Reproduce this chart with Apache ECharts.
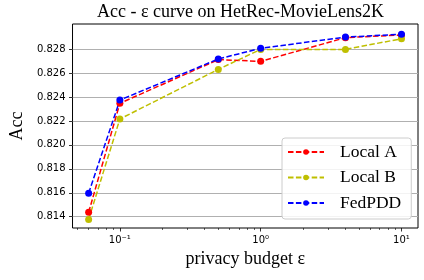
<!DOCTYPE html>
<html>
<head>
<meta charset="utf-8">
<script src="https://cdn.jsdelivr.net/npm/echarts@6/dist/echarts.min.js"></script>
<style>html,body{margin:0;padding:0;background:#fff}#c{width:424px;height:280px}</style>
</head>
<body>
<div id="c"></div>
<script>
const epsilons = [0.06, 0.1, 0.5, 1, 4, 10];
const localA = [0.81437, 0.82347, 0.82712, 0.82697, 0.82895, 0.82917];
const localB = [0.81378, 0.82216, 0.82630, 0.82797, 0.82797, 0.82886];
const fedPDD = [0.81596, 0.82374, 0.82717, 0.82806, 0.82900, 0.82923];
const yTicks = [0.814, 0.816, 0.818, 0.820, 0.822, 0.824, 0.826, 0.828];
const xMajor = [0.1, 1, 10];
const xMajorLabels = {0.1: '10\u207B\u00B9', 1: '10\u2070', 10: '10\u00B9'};
const xMinor = [0.05, 0.06, 0.07, 0.08, 0.09, 0.2, 0.3, 0.4, 0.5, 0.6, 0.7, 0.8, 0.9, 2, 3, 4, 5, 6, 7, 8, 9];

const SERIF = 'Liberation Serif';
const SANS = 'DejaVu Sans';
const XMIN = 0.04611, XMAX = 13.10;

function mkSeries(name, data, color) {
  return {
    name, type: 'line',
    data: epsilons.map((e, i) => [e, data[i]]),
    symbol: 'circle', symbolSize: 7,
    itemStyle: { color: color, borderWidth: 0 },
    lineStyle: { color: color, width: 1.5, type: [5.5, 2.4] },
    emphasis: { disabled: true },
    animation: false
  };
}

const chart = echarts.init(document.getElementById('c'), null, { renderer: 'canvas' });
chart.setOption({
  animation: false,
  title: {
    text: 'Acc - \u03B5 curve on HetRec-MovieLens2K',
    left: 97, top: 3, padding: 0,
    textStyle: { fontFamily: SERIF, fontSize: 18, fontWeight: 'normal', color: '#000' }
  },
  grid: { left: 63, right: 6, top: 24, bottom: 52, show: true, borderColor: '#000', borderWidth: 1, backgroundColor: 'transparent' },
  legend: {
    orient: 'vertical', left: 282, top: 138,
    itemWidth: 36, itemHeight: 7, itemGap: 7.5,
    padding: [5, 10, 7, 5],
    backgroundColor: 'rgba(255,255,255,0.85)',
    borderColor: '#cccccc', borderWidth: 1, borderRadius: 3,
    textStyle: { fontFamily: SERIF, fontSize: 17.5, color: '#000', lineHeight: 18, padding: [0, 0, 0, 11] },
    data: ['Local A', 'Local B', 'FedPDD']
  },
  xAxis: [{
    type: 'log', logBase: 10, min: XMIN, max: XMAX,
    axisLine: { show: false },
    splitLine: { show: false },
    axisTick: { show: true, length: 3.5, inside: false, customValues: xMajor, lineStyle: { color: '#000', width: 0.8 } },
    axisLabel: { customValues: xMajor, margin: 7, fontFamily: SANS, fontSize: 10, color: '#000',
      formatter: v => xMajorLabels[v] || '' },
    name: 'privacy budget \u03B5', nameLocation: 'middle', nameGap: 16,
    nameTextStyle: { fontFamily: SERIF, fontSize: 18, color: '#000' }
  }, {
    type: 'log', logBase: 10, min: XMIN, max: XMAX, position: 'bottom',
    axisLine: { show: false },
    splitLine: { show: false },
    axisTick: { show: true, length: 2, customValues: xMinor, lineStyle: { color: '#000', width: 0.6 } },
    axisLabel: { show: false }
  }],
  yAxis: {
    type: 'value', min: 0.81306, max: 0.83009,
    axisLine: { show: false },
    axisTick: { show: true, length: 3.5, customValues: yTicks, lineStyle: { color: '#000', width: 0.8 } },
    axisLabel: { customValues: yTicks, margin: 7, fontFamily: SANS, fontSize: 10, color: '#000',
      formatter: v => v.toFixed(3) },
    splitLine: { show: true, lineStyle: { color: '#b0b0b0', width: 1 } },
    name: 'Acc', nameLocation: 'middle', nameGap: 35,
    nameTextStyle: { fontFamily: SERIF, fontSize: 18, color: '#000' }
  },
  series: [
    mkSeries('Local A', localA, '#ff0000'),
    mkSeries('Local B', localB, '#bfbf00'),
    mkSeries('FedPDD', fedPDD, '#0000ff')
  ]
});
</script>
</body>
</html>
